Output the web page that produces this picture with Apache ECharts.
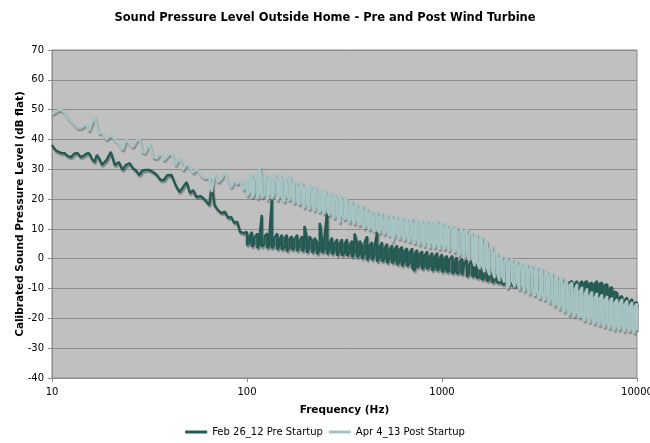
<!DOCTYPE html>
<html>
<head>
<meta charset="utf-8">
<script src="https://cdn.jsdelivr.net/npm/echarts@6/dist/echarts.min.js"></script>
<style>
  html, body { margin: 0; padding: 0; background: #fff; }
  #chart { width: 650px; height: 443px; }
</style>
</head>
<body>
<div id="chart"></div>
<script>
// low end of the spectrum: a single thin trace (Hz / dB flat)
var lowFreqs = [
  10, 10.4, 10.8, 11.2, 11.6, 12, 12.5, 13, 13.5, 14,
  14.5, 15, 15.5, 16, 16.5, 17, 17.5, 18, 19, 20,
  21, 22, 23, 24, 25, 26, 27, 28, 29, 30,
  31.5, 33, 34.5, 36, 37.5, 39, 41, 43, 45, 47,
  49, 51, 53, 55, 58, 61, 64, 66, 68, 71,
  74, 77, 80, 83, 86, 89, 92, 96
];
var preLow = [
  38.1, 36.5, 35.8, 35.4, 35.4, 34.5, 34.1, 35.2, 35.5, 34.1,
  34.5, 35.2, 35.4, 33.5, 32.4, 34.8, 33.5, 31.5, 33, 35.8,
  31.4, 32.4, 29.8, 31.5, 32, 30.4, 29.5, 28.1, 29.5, 29.8,
  29.8, 29.1, 28.1, 26.4, 26.4, 28, 28.1, 24.7, 22.4, 24,
  25.7, 22, 23, 20.7, 21, 19.7, 18, 25, 18, 16.3,
  15.3, 15.8, 13.7, 14, 12, 12.5, 9, 8.6
];
var postLow = [
  48.5, 49.3, 49.8, 50, 49, 47.5, 46.2, 45, 44, 43.8,
  44.5, 45, 43, 45.5, 47.5, 44.5, 42, 42.5, 40, 41.5,
  40, 38.5, 36.5, 40, 38.5, 37.5, 39.5, 40.5, 36, 35.5,
  38.8, 34, 33.8, 35.5, 33, 34.5, 35.4, 31.4, 34, 29.8,
  32.1, 30.5, 28.8, 30.4, 28, 27, 27.4, 22.4, 28.8, 25.7,
  27, 28.8, 26, 24, 26.4, 25, 26.4, 23
];

// from 100 Hz up the traces are dense: high / low reading per bin
var bandFreqs = [
  100, 103, 106, 109, 113, 116, 119, 123, 127, 130,
  134, 138, 143, 147, 151, 156, 160, 165, 170, 175,
  181, 186, 192, 197, 203, 209, 216, 222, 229, 236,
  243, 250, 258, 265, 273, 281, 290, 299, 307, 317,
  326, 336, 346, 356, 367, 378, 389, 401, 413, 425,
  438, 451, 465, 479, 493, 508, 523, 539, 555, 571,
  588, 606, 624, 643, 662, 682, 703, 724, 745, 768,
  791, 814, 839, 864, 890, 917, 944, 972, 1000, 1030,
  1060, 1090, 1130, 1160, 1190, 1230, 1270, 1300, 1340, 1380,
  1430, 1470, 1510, 1560, 1600, 1650, 1700, 1750, 1810, 1860,
  1920, 1970, 2030, 2090, 2160, 2220, 2290, 2360, 2430, 2500,
  2580, 2650, 2730, 2810, 2900, 2990, 3070, 3170, 3260, 3360,
  3460, 3560, 3670, 3780, 3890, 4010, 4130, 4250, 4380, 4510,
  4650, 4790, 4930, 5080, 5230, 5390, 5550, 5710, 5880, 6060,
  6240, 6430, 6620, 6820, 7030, 7240, 7450, 7680, 7910, 8140,
  8390, 8640, 8900, 9170, 9440, 9720, 10000
];
var preHi = [
  9, 7.5, 9, 7, 8.5, 7.5, 14.7, 7.5, 8.5, 7,
  20, 7, 8.5, 6.5, 8, 7, 8, 6.5, 7.5, 6.5,
  8, 6, 7.5, 11, 6.5, 7.5, 6, 7, 5.5, 12,
  6, 7.5, 16.5, 5.5, 7, 5, 6.5, 5, 6.5, 5,
  6.5, 4.5, 6, 8.5, 5, 6, 4.5, 5.5, 7.5, 4.5,
  5.5, 4, 9, 4, 5.5, 3.5, 5, 3, 4.5, 3,
  4.5, 3, 4, 2.5, 3.5, 2, 3.5, 1.5, 3, 1.5,
  2.5, 1, 2.5, 0.5, 2, 0.5, 2, 0, 1.5, 0,
  1, -0.5, 1, -1, 0.5, -1, 0, -1.5, -0.5, -2,
  -0.5, -2, -1, -2.5, -2, -3.5, -2.5, -4, -3, -4.5,
  -3.5, -5, -4, -5, -4, -5.5, -4.5, -6, -5, -6,
  -5, -6, -5, -6.5, -5, -6.5, -5.5, -7, -6, -7,
  -6, -7.5, -6.5, -8, -7, -8, -7, -8.5, -7.5, -8,
  -7.5, -8.5, -7.5, -8.5, -7.5, -8, -7.5, -8.5, -8, -8.5,
  -7.5, -8.5, -8, -9, -8.5, -10, -9.5, -11, -11.5, -13,
  -12.5, -14, -13, -14.5, -13.5, -15, -14.5
];
var preLo = [
  4.5, 5.5, 4, 5, 3.5, 5, 4, 5, 3.5, 4.5,
  3.5, 4.5, 3, 4.5, 3, 4, 2.5, 4, 3, 3.5,
  2.5, 4, 2.5, 3.5, 2, 3.5, 2, 3, 1.5, 3,
  2, 3, 1.5, 3, 1.5, 2.5, 1, 2.5, 1, 2,
  1, 2, 0.5, 2, 0.5, 1.5, 0, 1.5, -0.5, 1,
  -0.5, 1, -1, 0.5, -1, 0, -1.5, 0, -1.5, -0.5,
  -2, -1, -2.5, -1, -2.5, -1.5, -3, -4, -3, -2,
  -3.5, -2.5, -3.5, -2.5, -4, -3, -4, -3, -4.5, -3.5,
  -4.5, -4, -5, -4, -5, -4.5, -5.5, -5, -6, -5,
  -6, -5.5, -6.5, -6, -7, -6.5, -7.5, -7, -8, -7.5,
  -8, -8, -8.5, -8.5, -9, -8.5, -9, -9, -9.5, -9,
  -9.5, -9.5, -10, -10, -10.5, -10, -10.5, -10.5, -11, -10.5,
  -11, -11, -11.5, -11, -11.5, -11.5, -12, -11.5, -12, -12,
  -12, -12.5, -12, -12.5, -12, -12.5, -12, -12.5, -12, -12.5,
  -12, -12.5, -12.5, -13, -13, -13, -13.5, -14, -14, -14.5,
  -14.5, -15, -15, -15.5, -15.5, -16, -16
];
var postHi = [
  27, 29, 27.5, 26, 28.5, 31, 26.5, 28.5, 25.5, 27.5,
  26, 28.5, 25.5, 28.5, 26.5, 27.5, 25, 28, 24.5, 26.5,
  25.5, 23.5, 26, 24, 22.5, 25, 22.5, 24.5, 21.5, 23.5,
  22, 23.5, 20.5, 22.5, 20, 22, 19.5, 21.5, 19, 21,
  19.5, 18, 19.5, 17.5, 18.5, 16.5, 18, 16, 17, 15.5,
  16, 14.5, 16, 14, 15.5, 13.5, 15, 13, 15, 13,
  14.5, 13, 14, 12.5, 13.5, 12, 14, 11.5, 13, 12,
  13, 11.5, 13, 11, 12.5, 11.5, 13, 11, 12.5, 11,
  11.5, 10, 11.5, 9.5, 11, 9, 10.5, 9, 10, 8,
  9, 7, 8.5, 6.5, 7.5, 5, 6, 3.5, 4.5, 2,
  2, 0, 1, -1, 0.5, -1.5, 0, -2, -0.5, -2.5,
  -1.5, -3, -1.5, -3.5, -2, -4, -2.5, -4.5, -3, -5.5,
  -4, -6, -4.5, -7, -5.5, -7.5, -6, -8.5, -7, -9,
  -8, -10.5, -8.5, -11, -9.5, -12, -10, -12.5, -11, -13,
  -11.5, -13.5, -12, -14, -12.5, -14.5, -13, -15, -13.5, -15,
  -13.5, -15.5, -14, -16, -14.5, -16, -15
];
var postLo = [
  21, 22.5, 20.5, 22, 20, 22.5, 20.5, 21.5, 19.5, 22,
  20, 22, 19.5, 21.5, 20.5, 19, 21.5, 19.5, 20.5, 18.5,
  19.5, 18, 19, 17, 18.5, 16.5, 18, 16, 17.5, 15.5,
  16.5, 15, 16, 14.5, 15.5, 13.5, 15, 12, 14.5, 13,
  14, 12, 13.5, 11.5, 13, 11, 12, 10, 11.5, 9.5,
  10.5, 9, 10, 8.5, 10, 8, 9.5, 7.5, 5.5, 8,
  8.5, 6.5, 8, 6, 7.5, 5.5, 7, 5, 6.5, 4.5,
  6, 4, 6, 3.5, 5.5, 3.5, 5, 3, 5, 3,
  4.5, 2.5, 4, 2, 3.5, 1, 2.5, 0, 2, -0.5,
  0, -2.5, -1, -3.5, -2, -4.5, -3, -5.5, -4, -6.5,
  -5, -7.5, -6, -8, -10, -8.5, -7.5, -9.5, -8, -10.5,
  -9, -11, -9.5, -12, -10.5, -12.5, -11, -13.5, -12, -14,
  -12.5, -15, -13.5, -16, -14.5, -17, -15.5, -18, -16.5, -19,
  -17.5, -19.5, -18, -20, -19, -21, -19.5, -21.5, -20, -22,
  -20.5, -22.5, -21, -23, -21.5, -23.5, -22, -24, -22.5, -24,
  -22.5, -24.5, -23, -24.5, -23.5, -25, -24
];

var seriesNames = ['Feb 26_12 Pre Startup', 'Apr 4_13 Post Startup'];

// thin trace first, then a stroke down/up through each dense bin
function trace(low, hi, lo) {
  var pts = lowFreqs.map(function (f, i) { return [f, low[i]]; });
  bandFreqs.forEach(function (f, i) {
    if (i % 2 === 0) {
      pts.push([f, hi[i]], [f, lo[i]]);
    } else {
      pts.push([f, lo[i]], [f, hi[i]]);
    }
  });
  return pts;
}

var font = 'DejaVu Sans, Verdana, sans-serif';
var chart = echarts.init(document.getElementById('chart'));

chart.setOption({
  animation: false,
  backgroundColor: '#fff',
  title: {
    text: 'Sound Pressure Level Outside Home - Pre and Post Wind Turbine',
    left: 'center',
    top: 7,
    textStyle: { fontFamily: font, fontSize: 11.5, fontWeight: 'bold', color: '#000' }
  },
  legend: {
    data: seriesNames,
    bottom: 1,
    left: 'center',
    icon: 'rect',
    itemWidth: 22,
    itemHeight: 3,
    itemGap: 6,
    textStyle: { fontFamily: font, fontSize: 10, color: '#000' }
  },
  grid: {
    left: 52, right: 13, top: 50, bottom: 65,
    outerBoundsMode: 'none',
    containLabel: false,
    show: true,
    backgroundColor: '#c0c0c0',
    borderColor: '#8c8c8c',
    borderWidth: 1
  },
  xAxis: {
    type: 'log',
    logBase: 10,
    min: 10,
    max: 10000,
    name: 'Frequency (Hz)',
    nameLocation: 'middle',
    nameGap: 27,
    nameMoveOverlap: false,
    nameTextStyle: { fontFamily: font, fontSize: 10.5, fontWeight: 'bold', color: '#000' },
    axisLine: { onZero: false, lineStyle: { color: '#8c8c8c' } },
    axisTick: { show: true, length: 4, lineStyle: { color: '#8c8c8c' } },
    axisLabel: {
      fontFamily: font, fontSize: 10, color: '#000', margin: 9,
      formatter: function (v) { return String(Math.round(v)); }
    },
    splitLine: { show: false },
    minorTick: { show: false }
  },
  yAxis: {
    type: 'value',
    min: -40,
    max: 70,
    interval: 10,
    name: 'Calibrated Sound Pressure Level (dB flat)',
    nameLocation: 'middle',
    nameGap: 26,
    nameMoveOverlap: false,
    nameTextStyle: { fontFamily: font, fontSize: 10.5, fontWeight: 'bold', color: '#000' },
    axisLine: { show: true, lineStyle: { color: '#8c8c8c' } },
    axisTick: { show: true, length: 4, lineStyle: { color: '#8c8c8c' } },
    axisLabel: { fontFamily: font, fontSize: 10, color: '#000', margin: 8 },
    splitLine: { show: true, lineStyle: { color: '#8c8c8c', width: 1 } }
  },
  series: [
    {
      name: seriesNames[0],
      type: 'line',
      data: trace(preLow, preHi, preLo),
      showSymbol: false,
      symbol: 'none',
      color: '#235a53',
      lineStyle: {
        color: '#235a53', width: 2.4,
        shadowColor: 'rgba(60,60,60,0.45)', shadowOffsetX: 1, shadowOffsetY: 2, shadowBlur: 1
      },
      z: 2
    },
    {
      name: seriesNames[1],
      type: 'line',
      data: trace(postLow, postHi, postLo),
      showSymbol: false,
      symbol: 'none',
      color: '#a6c4c4',
      lineStyle: {
        color: '#a6c4c4', width: 2.4,
        shadowColor: 'rgba(90,90,90,0.55)', shadowOffsetX: 1, shadowOffsetY: 2, shadowBlur: 1
      },
      z: 3
    }
  ]
});
</script>
</body>
</html>
